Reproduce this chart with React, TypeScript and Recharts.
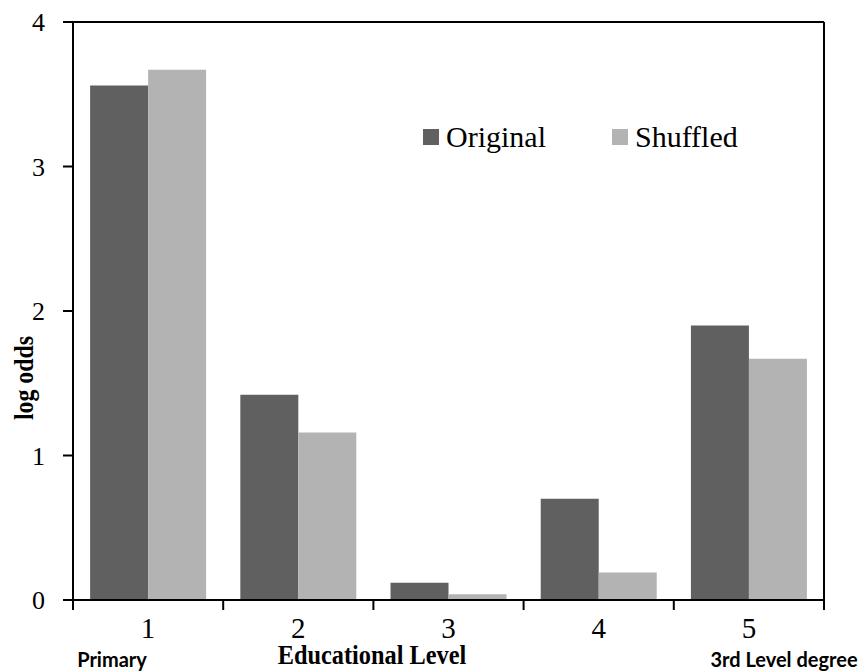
import React from 'react';
import { BarChart, Bar, XAxis, YAxis, ReferenceLine } from 'recharts';

const categories = ['1', '2', '3', '4', '5'];
const original = [3.56, 1.42, 0.12, 0.7, 1.9];
const shuffled = [3.67, 1.16, 0.04, 0.19, 1.67];
const yTicks = [0, 1, 2, 3, 4];
const legendItems = [
  { name: 'Original', color: '#606060' },
  { name: 'Shuffled', color: '#b3b3b3' },
];

const chartData = categories.map((c, i) => ({
  level: c,
  original: original[i],
  shuffled: shuffled[i],
}));

const DARK = legendItems[0].color;
const LIGHT = legendItems[1].color;
const SERIF = '"Liberation Serif", "Times New Roman", serif';
const SANS_BOLD = 'Lato, "Open Sans", sans-serif';

// label at the band centre, tick marks at the band edges (like Excel)
const EdgeTick = (props: any) => {
  const { x, y, payload, index, visibleTicksCount } = props;
  const half = payload?.offset ?? 0;
  const isLast = index === (visibleTicksCount ?? categories.length) - 1;
  return (
    <g>
      <line x1={x - half} y1={y} x2={x - half} y2={y + 10} stroke="#000" strokeWidth={2} />
      {isLast && <line x1={x + half} y1={y} x2={x + half} y2={y + 10} stroke="#000" strokeWidth={2} />}
      <text
        x={x}
        y={y + 28}
        textAnchor="middle"
        dominantBaseline="central"
        fill="#000"
        fontSize={29}
        fontFamily={SERIF}
      >
        {payload.value}
      </text>
    </g>
  );
};

const bottomLabel = (left: number, sans: boolean): React.CSSProperties => ({
  position: 'absolute',
  left,
  top: sans ? 659 : 655,
  transform: sans ? 'translate(-50%, -50%)' : 'translate(-50%, -50%) scaleX(0.9)',
  fontFamily: sans ? SANS_BOLD : SERIF,
  fontWeight: 'bold',
  fontSize: sans ? 20 : 27,
  lineHeight: 1,
  whiteSpace: 'nowrap',
});

export default function App() {
  return (
    <div style={{ position: 'absolute', left: 0, top: 0, width: 865, height: 672, background: '#fff' }}>
      <BarChart
        width={865}
        height={672}
        data={chartData}
        margin={{ top: 22, right: 40, left: 13, bottom: 42 }}
        barCategoryGap="11.4%"
        barGap={0}
      >
        <XAxis
          dataKey="level"
          height={30}
          tickLine={false}
          tickSize={0}
          tickMargin={0}
          tick={<EdgeTick />}
          interval={0}
          stroke="#000"
          strokeWidth={2}
        />
        <YAxis
          yAxisId="l"
          domain={[0, 4]}
          ticks={yTicks}
          width={60}
          tickSize={10}
          tickMargin={18}
          stroke="#000"
          strokeWidth={2}
          tick={{ fill: '#000', fontSize: 26, fontFamily: SERIF }}
        />
        <YAxis
          yAxisId="r"
          orientation="right"
          domain={[0, 4]}
          width={1}
          tick={false}
          tickLine={false}
          stroke="#000"
          strokeWidth={2}
        />
        <ReferenceLine yAxisId="l" y={4} stroke="#000" strokeWidth={2} />
        <Bar yAxisId="l" dataKey="original" name="Original" fill={DARK} isAnimationActive={false} />
        <Bar yAxisId="l" dataKey="shuffled" name="Shuffled" fill={LIGHT} isAnimationActive={false} />
      </BarChart>

      <div
        style={{
          position: 'absolute',
          left: 423,
          top: 120,
          display: 'flex',
          alignItems: 'center',
          fontFamily: SERIF,
          fontSize: 30,
          lineHeight: '34px',
          color: '#000',
          whiteSpace: 'nowrap',
        }}
      >
        {legendItems.map((item, i) => (
          <React.Fragment key={item.name}>
            <div
              style={{
                width: 16,
                height: 16,
                background: item.color,
                marginLeft: i === 0 ? 0 : 66,
                marginRight: 7,
              }}
            />
            <span>{item.name}</span>
          </React.Fragment>
        ))}
      </div>

      <div
        style={{
          position: 'absolute',
          left: 24,
          top: 378,
          transform: 'translate(-50%, -50%) rotate(-90deg) scaleX(0.85)',
          fontFamily: SERIF,
          fontWeight: 'bold',
          fontSize: 28,
          lineHeight: 1,
          whiteSpace: 'nowrap',
        }}
      >
        log odds
      </div>
      <div style={bottomLabel(372, false)}>Educational Level</div>
      <div style={bottomLabel(112, true)}>Primary</div>
      <div style={bottomLabel(784, true)}>3rd Level degree</div>
    </div>
  );
}
